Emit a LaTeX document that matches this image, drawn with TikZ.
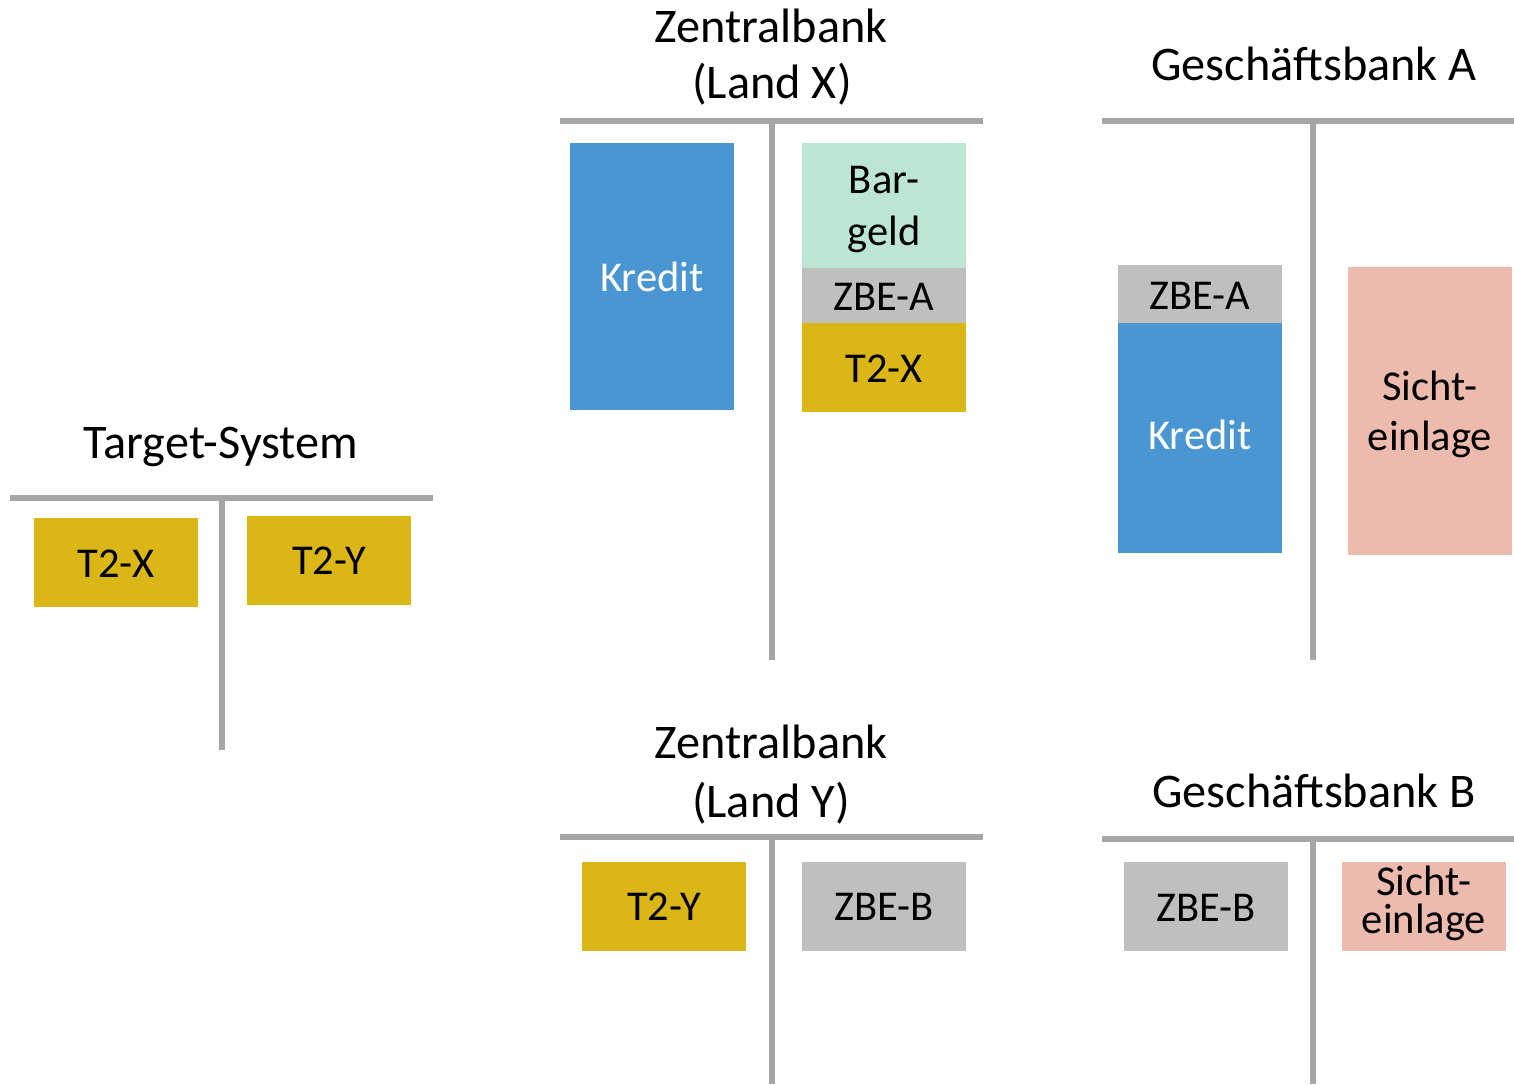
\documentclass[tikz,border=0pt]{standalone}
\usepackage{fontspec}
\setmainfont{Carlito}

\definecolor{ruleGray}{RGB}{166,166,166}
\definecolor{kreditBlue}{RGB}{74,150,210}
\definecolor{cashMint}{RGB}{189,229,212}
\definecolor{reserveGray}{RGB}{191,191,191}
\definecolor{targetGold}{RGB}{219,182,23}
\definecolor{depositPink}{RGB}{236,187,173}

\begin{document}
\begin{tikzpicture}[x=1pt,y=-1pt,
  tline/.style={draw=ruleGray, line width=6pt},
  entry/.style={inner sep=0pt, outer sep=0pt, minimum width=164pt},
  heading/.style={inner sep=0pt, anchor=base, font=\fontsize{48.3}{58}\selectfont},
  label/.style={inner sep=0pt, anchor=base, font=\fontsize{42.5}{51}\selectfont}]

\useasboundingbox[fill=white] (0,0) rectangle (1514,1084);

% ---------- Zentralbank (Land X)
\node[heading] (zbxT1) at (771,42) {Zentralbank};
\node[heading] (zbxT2) at (772,98) {(Land X)};
\coordinate (zbxL) at (560,121);
\coordinate (zbxR) at (983,121);
\coordinate (zbxTop) at (772,121);
\coordinate (zbxBot) at (772,660);
\draw[tline] (zbxL) -- (zbxR);
\draw[tline] (zbxTop) -- (zbxBot);

\node[entry, fill=kreditBlue, minimum height=267pt] (zbxKredit) at (652,276.5) {};
\node[label, text=white] (zbxKreditT) at (zbxKredit.center |- 0,291) {Kredit};
\node[entry, fill=cashMint, minimum height=125pt] (zbxBar) at (884,205.5) {};
\node[label, text depth=0pt] (zbxBarT1) at (zbxBar.center |- 0,193) {Bar-};
\node[label] (zbxBarT2) at (zbxBar.center |- 0,245) {geld};
\node[entry, fill=reserveGray, minimum height=55pt] (zbxZbe) at (884,295.5) {};
\node[label] (zbxZbeT) at (zbxZbe.center |- 0,310) {ZBE-A};
\node[entry, fill=targetGold, minimum height=89pt] (zbxT2x) at (884,367.5) {};
\node[label] (zbxT2xT) at (zbxT2x.center |- 0,382) {T2-X};

% ---------- Geschäftsbank A
\node[heading] (gaT) at (1314,80) {Geschäftsbank A};
\coordinate (gaL) at (1102,121);
\coordinate (gaR) at (1514,121);
\coordinate (gaTop) at (1313,121);
\coordinate (gaBot) at (1313,660);
\draw[tline] (gaL) -- (gaR);
\draw[tline] (gaTop) -- (gaBot);

\node[entry, fill=reserveGray, minimum height=58pt] (gaZbe) at (1200,294) {};
\node[label] (gaZbeT) at (gaZbe.center |- 0,309) {ZBE-A};
\node[entry, fill=kreditBlue, minimum height=230pt] (gaKredit) at (1200,438) {};
\node[label, text=white] (gaKreditT) at (gaKredit.center |- 0,449) {Kredit};
\node[entry, fill=depositPink, minimum height=288pt] (gaSicht) at (1430,411) {};
\node[label, text depth=0pt] (gaSichtT1) at (gaSicht.center |- 0,400) {Sicht-};
\node[label] (gaSichtT2) at (gaSicht.center |- 0,450) {einlage};

% ---------- Target-System
\node[heading] (tsT) at (221,458) {Target-System};
\coordinate (tsL) at (10,498);
\coordinate (tsR) at (433,498);
\coordinate (tsTop) at (222,498);
\coordinate (tsBot) at (222,750);
\draw[tline] (tsL) -- (tsR);
\draw[tline] (tsTop) -- (tsBot);

\node[entry, fill=targetGold, minimum height=89pt] (tsX) at (116,562.5) {};
\node[label] (tsXT) at (tsX.center |- 0,577) {T2-X};
\node[entry, fill=targetGold, minimum height=89pt] (tsY) at (329,560.5) {};
\node[label] (tsYT) at (tsY.center |- 0,574) {T2-Y};

% ---------- Zentralbank (Land Y)
\node[heading] (zbyT1) at (771,758) {Zentralbank};
\node[heading] (zbyT2) at (771,817) {(Land Y)};
\coordinate (zbyL) at (560,837);
\coordinate (zbyR) at (983,837);
\coordinate (zbyTop) at (772,837);
\coordinate (zbyBot) at (772,1084);
\draw[tline] (zbyL) -- (zbyR);
\draw[tline] (zbyTop) -- (zbyBot);

\node[entry, fill=targetGold, minimum height=89pt] (zbyT2y) at (664,906.5) {};
\node[label] (zbyT2yT) at (zbyT2y.center |- 0,920) {T2-Y};
\node[entry, fill=reserveGray, minimum height=89pt] (zbyZbe) at (884,906.5) {};
\node[label] (zbyZbeT) at (zbyZbe.center |- 0,920) {ZBE-B};

% ---------- Geschäftsbank B
\node[heading] (gbT) at (1314,807) {Geschäftsbank B};
\coordinate (gbL) at (1102,839);
\coordinate (gbR) at (1514,839);
\coordinate (gbTop) at (1313,839);
\coordinate (gbBot) at (1313,1084);
\draw[tline] (gbL) -- (gbR);
\draw[tline] (gbTop) -- (gbBot);

\node[entry, fill=reserveGray, minimum height=89pt] (gbZbe) at (1206,906.5) {};
\node[label] (gbZbeT) at (gbZbe.center |- 0,921) {ZBE-B};
\node[entry, fill=depositPink, minimum height=89pt] (gbSicht) at (1424,906.5) {};
\node[label, text depth=0pt] (gbSichtT1) at (gbSicht.center |- 0,895) {Sicht-};
\node[label, text height=27pt] (gbSichtT2) at (gbSicht.center |- 0,933) {einlage};

\end{tikzpicture}
\end{document}
